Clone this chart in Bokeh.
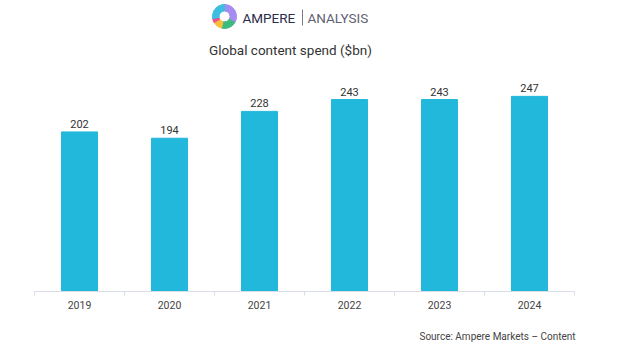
from bokeh.plotting import figure
from bokeh.models import (Range1d, FixedTicker, LinearAxis, Label, ColumnDataSource)
from bokeh.embed import file_html
from bokeh.resources import INLINE
from bokeh.core.properties import value
import math

# ---- data ----
years = ["2019", "2020", "2021", "2022", "2023", "2024"]
spend = [202, 194, 228, 243, 243, 247]
title_text = "Global content spend ($bn)"
source_text = "Source: Ampere Markets \u2013 Content"

W, H = 620, 349
LEFT, RIGHT, BOTTOM = 34, 46, 58
K = 0.79  # px per unit
frame_h = H - BOTTOM

idx = list(range(len(years)))
src = ColumnDataSource(dict(x=idx, top=spend, lab=[str(v) for v in spend]))

p = figure(width=W, height=H, output_backend="svg", toolbar_location=None,
           x_range=Range1d(-0.5, len(years) - 0.5),
           y_range=Range1d(0, frame_h / K),
           x_axis_type=None, y_axis_type=None,
           min_border_left=LEFT, min_border_right=RIGHT,
           min_border_top=0, min_border_bottom=BOTTOM)
p.outline_line_color = None
p.xgrid.visible = False
p.ygrid.visible = False
p.background_fill_color = "white"
p.border_fill_color = "white"

# pixel ranges for decorations (y measured from canvas bottom)
p.extra_x_ranges = {"px": Range1d(LEFT, W - RIGHT)}
p.extra_y_ranges = {"py": Range1d(BOTTOM, H)}

p.vbar(x="x", top="top", width=0.4, source=src, color="#22b8db", line_color="#22b8db")
p.text(x="x", y="top", text="lab", source=src, text_align="center",
       text_baseline="bottom", y_offset=-4, text_font=value("Roboto"),
       text_font_size="11px", text_color="#333333")

ax = LinearAxis(ticker=FixedTicker(ticks=idx, minor_ticks=[i - 0.5 for i in range(len(years) + 1)]))
ax.major_label_overrides = {i: y for i, y in zip(idx, years)}
ax.axis_line_color = "#d8dde6"
ax.major_tick_line_color = None
ax.major_tick_out = 0
ax.major_tick_in = 0
ax.minor_tick_line_color = "#d8dde6"
ax.minor_tick_out = 4
ax.minor_tick_in = 0
ax.major_label_standoff = 5
ax.major_label_text_font = "Roboto"
ax.major_label_text_font_size = "10.5px"
ax.major_label_text_color = "#444444"
p.add_layout(ax, "below")

# source note as a label-only axis on the pixel range
SRC_X = 497
ax2 = LinearAxis(x_range_name="px", ticker=FixedTicker(ticks=[SRC_X], minor_ticks=[]))
ax2.major_label_overrides = {SRC_X: source_text}
ax2.axis_line_color = None
ax2.major_tick_line_color = None
ax2.minor_tick_line_color = None
ax2.major_tick_out = 0
ax2.major_tick_in = 0
ax2.minor_tick_out = 0
ax2.major_label_standoff = 19
ax2.major_label_text_align = "center"
ax2.major_label_text_font = "Roboto"
ax2.major_label_text_font_size = "10px"
ax2.major_label_text_color = "#444444"
p.add_layout(ax2, "below")

# logo donut
cx, cy = 224, H - 16
segs = [(-30, 90, "#a58cf0"), (-105, -30, "#3dba7e"), (-150, -105, "#f6c03e"),
        (-170, -150, "#ef4f8f"), (90, 190, "#3dbde0")]
for s, e, c in segs:
    p.annular_wedge(x=cx, y=cy, inner_radius=5.5, outer_radius=12,
                    inner_radius_units="screen", outer_radius_units="screen",
                    start_angle=math.radians(s), end_angle=math.radians(e),
                    color=c, x_range_name="px", y_range_name="py")

p.add_layout(Label(x=242, y=H - 17, text="AMPERE", x_range_name="px", y_range_name="py",
                   text_font="Roboto", text_font_size="13.5px", text_font_style="normal",
                   text_color="#2b2d4d", text_baseline="middle", text_align="left"))
p.segment(x0=[302], y0=[H - 9], x1=[302], y1=[H - 25], line_color="#7a7c8c", line_width=1,
          x_range_name="px", y_range_name="py")
p.add_layout(Label(x=307, y=H - 17, text="ANALYSIS", x_range_name="px", y_range_name="py",
                   text_font="Roboto", text_font_size="13.5px",
                   text_color="#5f6173", text_baseline="middle", text_align="left"))

p.add_layout(Label(x=290, y=H - 49, text=title_text, x_range_name="px", y_range_name="py",
                   text_font="Roboto", text_font_size="13.5px", text_color="#333333",
                   text_baseline="middle", text_align="center"))

open("out.html", "w").write(file_html(p, INLINE))
